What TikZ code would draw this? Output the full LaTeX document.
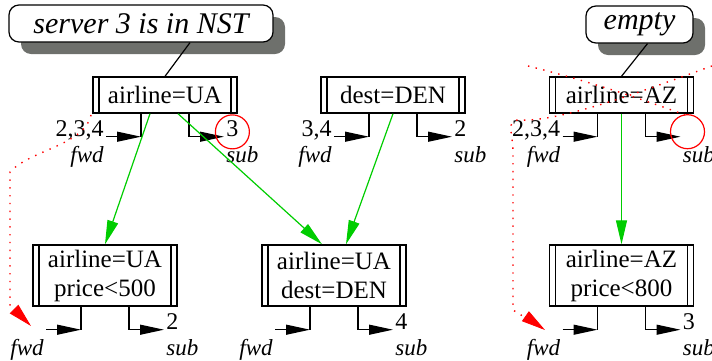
\documentclass[tikz,border=0pt]{standalone}
\usepackage{fontspec}
\setmainfont{Liberation Serif}
\usetikzlibrary{arrows.meta,shadows}
\definecolor{shadowgray}{RGB}{110,112,108}
\definecolor{linkgreen}{RGB}{0,205,0}

\tikzset{
  pred/.style={draw, line width=0.7pt, fill=white, inner sep=0pt, align=center,
    minimum width=72pt, minimum height=18pt, font=\fontsize{12.5}{14.5}\selectfont,
    path picture={
      \draw[line width=0.7pt] ([xshift=3pt]path picture bounding box.north west) -- ([xshift=3pt]path picture bounding box.south west);
      \draw[line width=0.7pt] ([xshift=-3pt]path picture bounding box.north east) -- ([xshift=-3pt]path picture bounding box.south east);}},
  note/.style={draw, line width=0.6pt, rounded corners=5pt, fill=white, minimum height=18.5pt,
    font=\fontsize{15}{18}\itshape,
    drop shadow={shadow xshift=6pt, shadow yshift=-6pt, fill=shadowgray, opacity=1}},
  arr/.style={line width=0.6pt, -{Triangle[length=12pt,width=5pt]}},
  link/.style={line width=0.6pt, draw=linkgreen, -{Triangle[length=12pt,width=5.5pt]}},
  lost/.style={red, line width=0.7pt, dash pattern=on 0.7pt off 3.2pt},
  lbl/.style={font=\fontsize{11.5}{13}\itshape, inner sep=1pt},
  num/.style={font=\fontsize{12}{14}\selectfont, inner sep=1pt}
}

\begin{document}
\begin{tikzpicture}[x=0.5pt, y=-0.5pt]
\useasboundingbox (0,0) rectangle (712,360);
\clip (0,0) rectangle (712,360);

% notes
\node[note, minimum width=132pt] (nst) at (141,23.5) {server 3 is in NST};
\node[note, minimum width=53.5pt] (emp) at (639.5,24.5) {empty};

% predicate boxes
\node[pred] (ua) at (165,95) {airline=UA};
\node[pred] (den) at (393,95) {dest=DEN};
\node[pred] (az) at (621.5,95) {airline=AZ};
\node[pred, minimum height=30.5pt] (ua5) at (105,275.5) {airline=UA\\price<500};
\node[pred, minimum height=30.5pt] (uad) at (334,275.5) {airline=UA\\dest=DEN};
\node[pred, minimum height=30.5pt] (az8) at (621.5,275.5) {airline=AZ\\price<800};

\draw[line width=0.6pt] ([xshift=24.5pt]nst.south) -- (ua.north);
\draw[line width=0.6pt] ([xshift=4pt]emp.south) -- (az.north);

% fwd and sub ports
\foreach \b in {ua,den,az,ua5,uad,az8} {
  \coordinate (\b-f) at ([shift={(-12pt,-11.5pt)}]\b.south);
  \coordinate (\b-s) at ([shift={(12pt,-11.5pt)}]\b.south);
  \coordinate (\b-fi) at ([xshift=-17.5pt]\b-f);
  \coordinate (\b-so) at ([xshift=17.5pt]\b-s);
  \draw[line width=0.6pt] (\b.south -| \b-f) -- (\b-f);
  \draw[arr] (\b-fi) -- (\b-f);
  \draw[arr] (\b.south -| \b-s) |- (\b-so);
  \node[lbl, anchor=north east] (\b-fl) at ([yshift=-3.5pt]\b-fi) {fwd};
  \node[lbl, anchor=north west] (\b-sl) at ([yshift=-3.5pt]\b-so) {sub};
}

\node[num, anchor=base east] (ua-fn) at (ua-fi) {2,3,4};
\node[num, anchor=base west] (ua-sn) at (ua-so) {3};
\node[num, anchor=base east] (den-fn) at (den-fi) {3,4};
\node[num, anchor=base west] (den-sn) at (den-so) {2};
\node[num, anchor=base east] (az-fn) at (az-fi) {2,3,4};
\node[num, anchor=base west] (ua5-sn) at (ua5-so) {2};
\node[num, anchor=base west] (uad-sn) at (uad-so) {4};
\node[num, anchor=base west] (az8-sn) at (az8-so) {3};

\draw[red, line width=0.6pt] ([yshift=-1.5pt]ua-sn.center) circle (8.5pt);
\draw[red, line width=0.6pt] ([shift={(3.5pt,2.5pt)}]az-so) circle (8.5pt);

% green links
\draw[link] ([xshift=-7.5pt]ua.south) -- (ua5.north);
\draw[link] ([xshift=6.5pt]ua.south) -- ([xshift=-6pt]uad.north);
\draw[link] (den.south) -- ([xshift=6pt]uad.north);
\draw[link] (az.south) -- (az8.north);

% red dotted paths
\coordinate (ua-lost) at (91,115);
\coordinate (ua5-lost) at (31,326);
\coordinate (az-lost) at (712,66);
\coordinate (az8-lost) at (545,330);
\draw[lost] (ua-lost) .. controls (85,145) and (30,150) .. (10,172) -- (10,305) -- (ua5-lost);
\draw[red, -{Triangle[length=12pt,width=6pt]}] ([shift={(-7pt,7pt)}]ua5-lost) -- (ua5-lost);
\draw[lost] (az-lost) .. controls (640,92) and (560,122) .. (520,120) .. controls (505,119) and (513,135) .. (513,150) -- (513,310) -- (az8-lost);
\draw[red, -{Triangle[length=12pt,width=6pt]}] ([shift={(-8.5pt,6pt)}]az8-lost) -- (az8-lost);
\draw[lost] (528,66) .. controls (585,80) and (645,100) .. (685,115);

\end{tikzpicture}
\end{document}
